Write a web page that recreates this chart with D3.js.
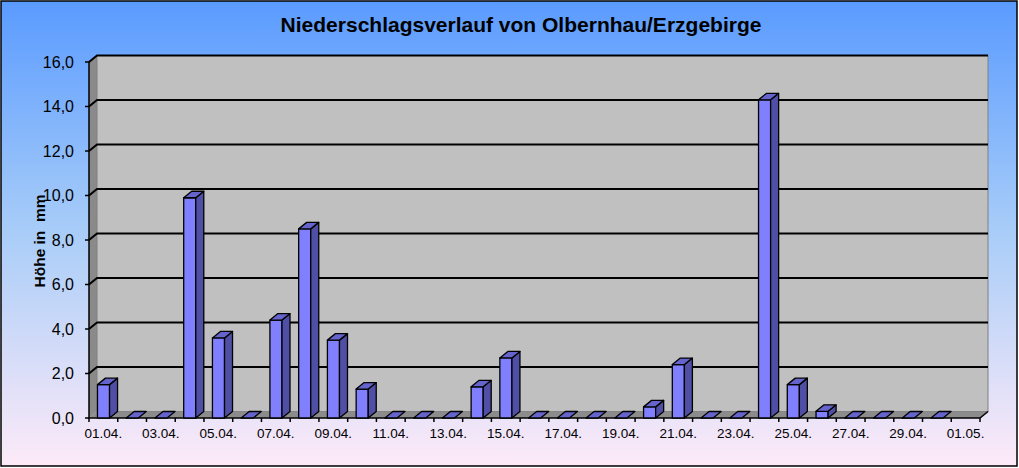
<!DOCTYPE html>
<html><head><meta charset="utf-8">
<script src="https://cdn.jsdelivr.net/npm/d3@7"></script>
<style>html,body{margin:0;padding:0;background:#fff}svg{display:block}text{font-family:"Liberation Sans",Arial,sans-serif}</style>
</head><body>
<script>
const categories = ["01.04.","02.04.","03.04.","04.04.","05.04.","06.04.","07.04.","08.04.","09.04.","10.04.",
  "11.04.","12.04.","13.04.","14.04.","15.04.","16.04.","17.04.","18.04.","19.04.","20.04.",
  "21.04.","22.04.","23.04.","24.04.","25.04.","26.04.","27.04.","28.04.","29.04.","30.04.","01.05."];
const values = [1.5,0,0,9.9,3.6,0,4.4,8.5,3.5,1.3,0,0,0,1.4,2.7,0,0,0,0,0.5,2.4,0,0,14.3,1.5,0.3,0,0,0,0,null];
const yTicks = [0,2,4,6,8,10,12,14,16];
const shownLabels = ["01.04.","03.04.","05.04.","07.04.","09.04.","11.04.","13.04.","15.04.","17.04.","19.04.",
  "21.04.","23.04.","25.04.","27.04.","29.04.","01.05."];
const title = "Niederschlagsverlauf von Olbernhau/Erzgebirge";
const yTitle = "Höhe in  mm";

const W = 1019, H = 468;
const svg = d3.select("body").append("svg").attr("width", W).attr("height", H);
const defs = svg.append("defs");
const g = defs.append("linearGradient").attr("id","bg").attr("x1",0).attr("y1",0).attr("x2",0).attr("y2",1);
g.append("stop").attr("offset","0%").attr("stop-color","#5a9bff");
g.append("stop").attr("offset","50%").attr("stop-color","#a9cdf8");
g.append("stop").attr("offset","100%").attr("stop-color","#fdeaf8");
svg.append("rect").attr("x",1).attr("y",1).attr("width",W-3).attr("height",H-3)
  .attr("fill","url(#bg)").attr("stroke","#000").attr("stroke-width",1.5);

const x = d3.scaleBand().domain(categories).range([89, 980]).padding(0);
const y = d3.scaleLinear().domain([0,16]).range([418, 62]);
const DX = 8, DY = -6.5;
const xL = 89, xR = 980;

// side wall
svg.append("polygon").attr("points",[[xL,y(16)],[xL+DX,y(16)+DY],[xL+DX,y(0)+DY],[xL,y(0)]].join(" "))
  .attr("fill","#8a8a8a");
// back wall
svg.append("rect").attr("x",xL+DX).attr("y",y(16)+DY).attr("width",xR-xL).attr("height",y(0)-y(16))
  .attr("fill","#c0c0c0").attr("stroke","#808080").attr("stroke-width",1);
// floor
svg.append("polygon").attr("points",[[xL,y(0)],[xL+DX,y(0)+DY],[xR+DX,y(0)+DY],[xR,y(0)]].join(" "))
  .attr("fill","#8c8c8c");

// gridlines
yTicks.filter(t=>t>0).forEach(t=>{
  svg.append("path").attr("d",`M${xL},${y(t)}L${xL+DX},${y(t)+DY}L${xR+DX},${y(t)+DY}`)
    .attr("fill","none").attr("stroke","#000").attr("stroke-width",2);
});

// axes lines
svg.append("path").attr("d",`M${xL},${y(16)}L${xL},${y(0)}L${xR},${y(0)}L${xR+DX},${y(0)+DY}`)
  .attr("fill","none").attr("stroke","#000").attr("stroke-width",1.5);

// bars
const bw = x.bandwidth();
const bx = c => x(c) + bw*0.295;
const bwid = bw*0.42;
const bars = svg.append("g");
categories.forEach((c,i)=>{
  const v = values[i];
  if (v === null) return;
  const x0 = bx(c), x1 = x0 + bwid, yt = y(v), yb = y(0);
  const grp = bars.append("g").attr("stroke","#000").attr("stroke-width",1.3).attr("stroke-linejoin","round");
  if (v > 0) {
    grp.append("polygon").attr("points",[[x0,yb],[x0,yt],[x1,yt],[x1,yb]].join(" ")).attr("fill","#8080ff");
    grp.append("polygon").attr("points",[[x1,yb],[x1,yt],[x1+DX,yt+DY],[x1+DX,yb+DY]].join(" ")).attr("fill","#4f4fa6");
  }
  grp.append("polygon").attr("points",[[x0,yt],[x1,yt],[x1+DX,yt+DY],[x0+DX,yt+DY]].join(" ")).attr("fill","#6464cc");
});

// y ticks & labels
const yAx = svg.append("g");
yTicks.forEach(t=>{
  yAx.append("line").attr("x1",xL-4).attr("x2",xL).attr("y1",y(t)).attr("y2",y(t)).attr("stroke","#000").attr("stroke-width",1.5);
  yAx.append("text").attr("x",74).attr("y",y(t)+5.5).attr("text-anchor","end").attr("font-size",16)
    .attr("fill","#000").text(d3.format(".1f")(t).replace(".",","));
});
// x ticks
const xt = svg.append("g");
categories.forEach(c=>{
  xt.append("line").attr("x1",x(c)).attr("x2",x(c)).attr("y1",y(0)).attr("y2",y(0)+4).attr("stroke","#000").attr("stroke-width",1.5);
});
xt.append("line").attr("x1",xR).attr("x2",xR).attr("y1",y(0)).attr("y2",y(0)+4).attr("stroke","#000").attr("stroke-width",1.5);
shownLabels.forEach(c=>{
  xt.append("text").attr("x",x(c)+bw/2).attr("y",438).attr("text-anchor","middle").attr("font-size",13.5)
    .attr("fill","#000").text(c);
});

// titles
svg.append("text").attr("x",521).attr("y",32).attr("text-anchor","middle").attr("font-size",21)
  .attr("font-weight","bold").attr("fill","#000").text(title);
svg.append("text").attr("transform","translate(45,241) rotate(-90)").attr("text-anchor","middle")
  .attr("font-size",15.5).attr("font-weight","bold").attr("fill","#000").attr("xml:space","preserve")
  .style("white-space","pre").text(yTitle);
</script>
</body></html>
